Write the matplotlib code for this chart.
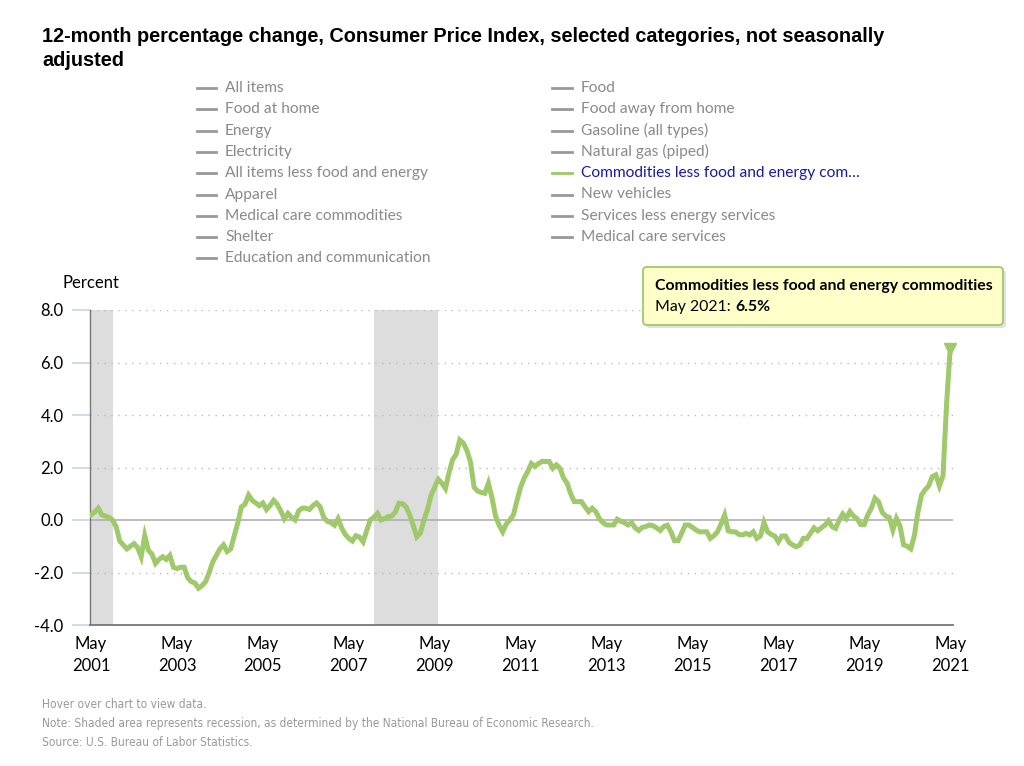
import matplotlib
matplotlib.use("Agg")
import matplotlib.pyplot as plt
from matplotlib.lines import Line2D
from matplotlib.patches import FancyBboxPatch
import numpy as np

# data: 12-month % change, commodities less food and energy commodities, May 2001 .. May 2021
start_year = 2001
start_month = 5
values = [
    0.2, 0.3, 0.45, 0.2, 0.15, 0.1, 0.0, -0.25,                          # May01-Dec01
    -0.8, -0.95, -1.1, -1.0, -0.9, -1.05, -1.4, -0.6, -1.15, -1.3, -1.65, -1.5,   # 2002
    -1.4, -1.5, -1.35, -1.8, -1.85, -1.8, -1.8, -2.2, -2.35, -2.4, -2.6, -2.5,    # 2003
    -2.35, -2.0, -1.6, -1.35, -1.1, -0.95, -1.2, -1.1, -0.6, -0.1, 0.5, 0.6,      # 2004
    0.95, 0.75, 0.65, 0.55, 0.65, 0.4, 0.55, 0.75, 0.6, 0.35, 0.05, 0.25,         # 2005
    0.1, 0.0, 0.35, 0.45, 0.45, 0.4, 0.55, 0.65, 0.5, 0.1, -0.05, -0.1,           # 2006
    -0.2, 0.05, -0.3, -0.55, -0.7, -0.8, -0.6, -0.65, -0.83, -0.4, 0.0, 0.1,      # 2007
    0.25, 0.0, 0.05, 0.13, 0.15, 0.3, 0.64, 0.62, 0.5, 0.2, -0.2, -0.64,          # 2008
    -0.5, 0.0, 0.4, 0.95, 1.25, 1.55, 1.4, 1.2, 1.8, 2.3, 2.5, 3.05,              # 2009
    2.93, 2.65, 2.2, 1.25, 1.1, 1.05, 1.02, 1.4, 0.85, 0.15, -0.2, -0.45,         # 2010
    -0.15, 0.0, 0.2, 0.75, 1.25, 1.6, 1.85, 2.15, 2.04, 2.15, 2.23, 2.23,         # 2011
    2.23, 1.97, 2.1, 1.97, 1.6, 1.4, 1.0, 0.7, 0.7, 0.7, 0.5, 0.32,               # 2012
    0.45, 0.32, 0.05, -0.1, -0.19, -0.19, -0.19, 0.03, -0.05, -0.1, -0.19, -0.1,  # 2013
    -0.3, -0.4, -0.28, -0.25, -0.19, -0.22, -0.3, -0.4, -0.25, -0.2, -0.45, -0.79,  # 2014
    -0.79, -0.5, -0.19, -0.19, -0.28, -0.38, -0.45, -0.45, -0.45, -0.7, -0.6, -0.45,  # 2015
    -0.15, 0.19, -0.41, -0.45, -0.45, -0.55, -0.57, -0.51, -0.57, -0.45, -0.7, -0.61,  # 2016
    -0.1, -0.45, -0.55, -0.61, -0.83, -0.61, -0.61, -0.85, -0.95, -1.02, -0.95, -0.7,  # 2017
    -0.7, -0.5, -0.3, -0.41, -0.3, -0.2, -0.03, -0.25, -0.32, 0.0, 0.23, 0.06,    # 2018
    0.32, 0.15, 0.05, -0.17, -0.17, 0.2, 0.45, 0.83, 0.7, 0.3, 0.15, 0.1,         # 2019
    -0.38, 0.06, -0.23, -0.95, -1.0, -1.1, -0.6, 0.3, 0.95, 1.15, 1.3, 1.65,      # 2020
    1.72, 1.3, 1.68, 4.4, 6.5,                                                    # Jan21-May21
]
# recessions (NBER), as month offsets from May 2001
recessions = [(0, 6), (79, 97)]

tick_years = list(range(2001, 2022, 2))
yticks = [-4.0, -2.0, 0.0, 2.0, 4.0, 6.0, 8.0]

legend_left = ["All items", "Food at home", "Energy", "Electricity",
               "All items less food and energy", "Apparel",
               "Medical care commodities", "Shelter", "Education and communication"]
legend_right = ["Food", "Food away from home", "Gasoline (all types)",
                "Natural gas (piped)", "Commodities less food and energy com\u2026",
                "New vehicles", "Services less energy services", "Medical care services"]
highlight = "Commodities less food and energy com\u2026"

series_name = "Commodities less food and energy commodities"
last_label = "May 2021:"

GREEN = "#9fc96a"
LABEL_FONT = ["Lato", "DejaVu Sans"]

fig = plt.figure(figsize=(10.24, 7.66), dpi=100)
ax = fig.add_axes([90 / 1024, 1 - 625 / 766, 863 / 1024, 315 / 766])

x = np.arange(len(values))
for a, b in recessions:
    ax.axvspan(a, b, color="#dddddd", lw=0, zorder=0)

for yv in yticks:
    if yv == 0:
        ax.axhline(0, color="#b0b0b0", lw=1.2, zorder=1)
    elif yv > -4:
        ax.axhline(yv, color="#bbbbbb", lw=1, ls=(0, (1, 4)), zorder=1)

ax.plot(x, values, color=GREEN, lw=3.6, solid_joinstyle="miter", zorder=3)
ax.plot(x[-1], values[-1], marker="v", ms=9, color=GREEN, zorder=4, clip_on=False)

ax.set_xlim(-0.3, 240.8)
ax.set_ylim(-4, 8)
ax.set_yticks(yticks)
ax.set_yticklabels([f"{v:.1f}" for v in yticks], fontsize=12, family=LABEL_FONT)
xt = [(yr - start_year) * 12 for yr in tick_years]
ax.set_xticks(xt)
ax.set_xticklabels([f"May\n{yr}" for yr in tick_years], fontsize=12,
                   family=LABEL_FONT, linespacing=1.45)
ax.tick_params(axis="y", length=13, width=1.2, color="#c7d5ea", pad=6)
ax.tick_params(axis="x", length=0, pad=8)
for s in ["top", "right"]:
    ax.spines[s].set_visible(False)
ax.spines["left"].set_color("#777777")
ax.spines["left"].set_linewidth(1)
ax.spines["bottom"].set_color("#777777")
ax.spines["bottom"].set_linewidth(1.3)

# overlay in pixel coords for title, legend, tooltip, notes
ov = fig.add_axes([0, 0, 1, 1], zorder=10)
ov.set_xlim(0, 1024)
ov.set_ylim(766, 0)
ov.axis("off")
ov.patch.set_alpha(0)

ov.text(42, 27, "12-month percentage change, Consumer Price Index, selected categories, not seasonally\nadjusted",
        fontsize=14.3, fontweight="bold", family=["Liberation Sans", "DejaVu Sans"],
        va="top", ha="left", linespacing=1.32)

row_h = 21.3
for i, name in enumerate(legend_left):
    yy = 88 + i * row_h
    ov.add_line(Line2D([197, 216], [yy, yy], color="#999999", lw=2))
    ov.text(225, yy, name, fontsize=11.2, color="#8a8a8a", va="center", family=LABEL_FONT)
for i, name in enumerate(legend_right):
    yy = 88 + i * row_h
    hl = name == highlight
    ov.add_line(Line2D([552, 572], [yy, yy], color=GREEN if hl else "#999999", lw=2))
    ov.text(581, yy, name, fontsize=11.2, color="#1a1aa0" if hl else "#8a8a8a",
            va="center", family=LABEL_FONT)

ov.text(63, 283, "Percent", fontsize=12, va="center", ha="left", family=LABEL_FONT)

# tooltip
ov.add_patch(FancyBboxPatch((646, 270), 360, 58, boxstyle="round,pad=0,rounding_size=4",
                            fc="#cfcfcf", ec="none", alpha=0.6))
ov.add_patch(FancyBboxPatch((643, 267), 360, 58, boxstyle="round,pad=0,rounding_size=4",
                            fc="#ffffc9", ec=GREEN, lw=1.3))
ov.text(655, 286, series_name, fontsize=11.4, fontweight="bold", va="center", family=LABEL_FONT)
t = ov.text(655, 307, last_label, fontsize=11.4, va="center", family=LABEL_FONT)
ov.annotate(f"{values[-1]:.1f}%", xycoords=t, xy=(1, 0.5), xytext=(3, 0),
            textcoords="offset points", va="center", fontsize=11.4,
            fontweight="bold", family=LABEL_FONT)

notes = ["Hover over chart to view data.",
         "Note: Shaded area represents recession, as determined by the National Bureau of Economic Research.",
         "Source: U.S. Bureau of Labor Statistics."]
for i, n in enumerate(notes):
    ov.text(42, 705 + i * 18.5, n, fontsize=8.6, color="#9a9a9a", va="center",
            family="DejaVu Sans", fontstretch="condensed")

fig.savefig("out.png", dpi=100)
